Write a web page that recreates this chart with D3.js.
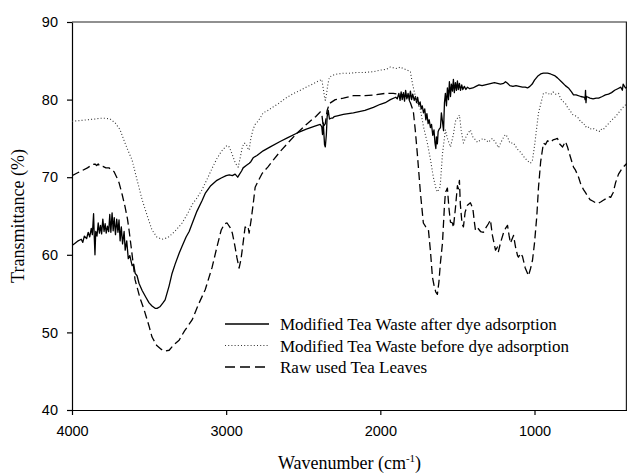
<html>
<head>
    <style>
        body { margin: 0; background: #fff; }
        .axis text { font: 14.5px "Liberation Sans", Arial, sans-serif; fill: #000; }
        .axis path, .axis line { stroke: #000; stroke-width: 1.2; }
        .title, .legend text { font-family: "Liberation Serif", "Times New Roman", serif; font-size: 17px; fill: #000; }
        .title { font-size: 18px; }
    </style>
    <script src="https://d3js.org/d3.v7.min.js"></script>
</head>
<body>
    <svg width="627" height="475"></svg>
    <script>
        // tick labels
        var xTicks = [4000, 3000, 2000, 1000];
        var yTicks = [40, 50, 60, 70, 80, 90];

        var seriesNames = ["Modified Tea Waste after dye adsorption",
                           "Modified Tea Waste before dye adsorption",
                           "Raw used Tea Leaves"];

        // Modified Tea Waste after dye adsorption
        var wnAfter = [4000,3980,3960,3940,3930,3920,3905,3895,3885,3875,3868,3860,3855,3851,3846,3838,3830,3822,3815,3808,
            3800,3792,3785,3778,3770,3762,3755,3748,3740,3733,3726,3718,3710,3702,3695,3688,3680,3672,3662,3655,
            3645,3635,3625,3610,3600,3590,3578,3565,3545,3520,3500,3481,3461,3448,3430,3410,3396,3370,3351,3331,
            3305,3286,3260,3240,3221,3190,3156,3136,3100,3060,3032,3000,2980,2960,2942,2925,2916,2900,2890,2870,
            2850,2840,2825,2800,2760,2714,2650,2600,2539,2480,2420,2390,2380,2375,2370,2362,2357,2350,2345,2338,
            2330,2320,2310,2300,2279,2240,2175,2100,2045,2000,1968,1935,1900,1890,1880,1872,1865,1858,1850,1843,
            1836,1828,1820,1812,1805,1797,1790,1780,1772,1765,1758,1750,1742,1735,1728,1720,1712,1705,1698,1690,
            1683,1675,1668,1660,1652,1646,1640,1636,1630,1625,1618,1610,1604,1597,1590,1584,1578,1571,1565,1558,
            1552,1545,1539,1532,1526,1520,1513,1506,1500,1494,1487,1480,1472,1465,1455,1445,1435,1420,1400,1380,
            1360,1340,1320,1300,1280,1260,1240,1221,1200,1188,1175,1160,1140,1120,1100,1078,1060,1045,1030,1015,
            1000,980,960,942,916,896,870,851,820,800,780,760,747,730,700,675,672,669,666,663,
            640,620,600,584,560,540,520,500,480,460,440,430,425,410,400];
        var tAfter = [61.2,61.5,61.8,62.0,61.6,62.4,62.1,62.9,62.3,63.4,62.6,65.3,62.0,60.0,63.0,62.4,64.1,62.8,63.8,62.7,
            64.6,63.0,64.0,62.8,63.7,63.0,65.2,62.9,65.4,63.1,64.8,62.6,64.6,62.9,64.5,61.8,63.6,61.4,63.0,60.6,
            61.8,59.5,59.9,58.6,58.8,57.6,57.3,56.3,55.4,54.5,53.8,53.4,53.1,53.1,53.3,53.8,54.2,56.0,57.6,58.8,
            60.2,61.1,62.3,63.0,64.0,65.6,67.0,67.9,68.9,69.6,69.9,70.2,70.3,70.2,70.4,70.0,70.3,70.8,71.2,71.5,
            71.8,72.0,72.5,72.8,73.4,73.9,74.6,75.1,75.7,76.2,76.6,76.8,76.5,75.5,77.0,74.2,73.9,75.5,77.8,78.6,
            77.5,77.6,77.6,77.8,77.9,78.1,78.3,78.6,79.0,79.4,79.6,80.0,80.3,80.1,80.8,79.9,81.0,80.0,80.9,79.8,
            81.2,80.1,80.8,79.9,81.1,80.0,80.7,79.9,80.4,79.6,80.3,79.3,79.7,78.8,79.2,78.3,78.8,77.4,78.2,76.9,
            77.4,76.4,76.8,75.4,76.1,74.5,73.7,75.2,74.3,75.9,76.2,76.4,78.3,77.2,76.0,79.6,80.8,79.2,81.5,80.0,
            82.3,80.4,82.0,81.1,82.6,80.9,82.2,81.2,82.4,81.3,82.1,81.2,81.9,81.3,81.7,81.3,81.6,81.4,81.5,81.7,
            81.9,81.8,81.9,82.0,82.1,82.2,82.1,82.0,82.1,82.3,82.1,81.8,81.7,81.8,81.7,81.6,81.6,81.5,81.7,82.0,
            82.5,83.0,83.3,83.4,83.4,83.3,83.1,82.8,82.2,81.8,81.5,81.0,80.6,80.6,80.4,80.3,80.0,81.2,79.6,80.4,
            80.2,80.1,80.2,80.2,80.4,80.6,80.7,80.9,81.2,81.4,81.6,81.2,82.0,81.5,81.6];

        // Modified Tea Waste before dye adsorption
        var wnBefore = [4000,3950,3900,3850,3818,3780,3753,3720,3688,3660,3640,3610,3580,3545,3510,3481,3450,3416,3380,3350,
            3320,3286,3250,3220,3190,3156,3120,3090,3060,3032,3010,2994,2980,2960,2940,2922,2910,2896,2884,2870,
            2857,2851,2840,2825,2812,2799,2780,2760,2730,2700,2660,2620,2580,2540,2500,2460,2420,2390,2380,2370,
            2362,2357,2350,2340,2330,2312,2300,2279,2240,2200,2150,2100,2045,2000,1960,1935,1916,1890,1870,1851,
            1825,1805,1792,1770,1740,1720,1695,1675,1656,1640,1630,1615,1610,1597,1578,1565,1545,1526,1513,1487,
            1475,1461,1440,1416,1400,1370,1350,1331,1310,1299,1286,1273,1250,1234,1210,1190,1175,1160,1136,1110,
            1090,1060,1039,1026,1013,1000,974,955,942,920,896,880,864,844,830,818,799,786,770,750,
            734,714,700,682,669,656,640,620,604,590,580,571,556,539,520,506,487,474,455,430,400];
        var tBefore = [77.2,77.3,77.4,77.5,77.6,77.6,77.5,77.0,76.1,74.6,73.6,72.2,69.8,67.1,64.9,63.2,62.3,62.0,62.2,62.7,
            63.3,64.1,65.3,66.5,67.3,68.4,69.9,71.2,72.4,73.3,73.8,74.1,73.9,72.9,71.8,71.3,72.4,73.8,74.4,74.3,
            73.6,73.5,75.0,76.2,76.8,77.1,77.6,78.3,78.6,79.0,79.5,80.1,80.6,81.0,81.4,81.8,82.2,82.5,82.6,81.4,
            80.3,79.9,80.6,82.0,82.9,83.1,83.2,83.3,83.4,83.4,83.5,83.5,83.6,83.8,83.9,84.2,84.1,84.0,84.2,84.0,
            83.8,83.6,82.1,80.2,78.7,76.5,74.4,72.3,70.0,68.6,68.1,68.6,69.3,73.0,76.1,75.0,73.9,75.5,77.2,78.0,
            76.0,74.4,75.4,76.1,75.2,74.5,74.8,75.0,74.7,74.5,74.8,75.0,74.4,73.8,74.8,75.5,75.2,74.4,74.4,73.6,
            73.2,72.4,72.0,71.8,72.2,74.0,78.3,79.8,80.8,80.9,80.6,81.0,80.7,80.8,80.1,79.8,79.5,79.0,78.6,78.0,
            77.9,77.6,77.1,77.0,76.5,76.6,76.2,76.3,76.1,76.0,75.9,76.2,76.1,76.5,76.9,77.2,77.6,77.8,78.3,78.9,79.5];

        // Raw used Tea Leaves
        var wnRaw = [4000,3960,3930,3900,3870,3851,3840,3830,3818,3800,3780,3760,3740,3727,3710,3695,3675,3656,3640,3630,
            3610,3591,3560,3532,3500,3481,3450,3420,3396,3370,3340,3305,3270,3221,3180,3136,3091,3060,3032,3010,
            2994,2974,2960,2942,2930,2916,2904,2896,2877,2865,2857,2851,2838,2825,2812,2790,2766,2730,2695,2650,
            2600,2539,2480,2420,2390,2380,2370,2357,2345,2330,2292,2240,2175,2100,2045,1968,1916,1880,1851,1825,
            1805,1786,1773,1760,1740,1721,1705,1688,1675,1662,1650,1640,1630,1620,1610,1597,1585,1578,1565,1555,
            1545,1532,1526,1513,1500,1494,1487,1481,1470,1461,1450,1435,1416,1400,1390,1383,1370,1350,1331,1315,
            1299,1286,1273,1253,1240,1234,1221,1200,1188,1175,1165,1156,1140,1136,1123,1110,1104,1090,1078,1060,
            1045,1039,1026,1013,1000,985,974,960,942,929,916,896,880,864,851,838,818,799,786,770,
            747,734,714,700,682,669,656,640,620,604,590,571,556,539,520,506,490,474,455,430,400];
        var tRaw = [70.2,70.6,70.9,71.2,71.6,71.7,71.5,71.7,71.4,71.4,71.2,71.2,70.9,70.7,70.0,69.3,67.8,66.2,64.6,63.2,
            60.0,56.8,54.5,52.9,50.8,49.4,48.3,47.8,47.6,47.7,48.4,49.0,50.2,51.6,53.6,55.5,58.4,61.0,63.2,64.0,
            64.1,63.5,62.8,61.0,59.6,58.3,59.4,60.6,63.6,63.3,63.5,62.8,64.5,66.5,68.7,69.6,70.5,71.3,72.2,73.3,
            74.4,75.7,76.8,77.8,78.4,78.2,76.5,76.9,78.6,79.5,80.0,80.2,80.5,80.5,80.6,80.8,80.8,80.7,80.6,80.3,
            79.6,78.5,76.0,73.0,68.0,64.1,63.6,63.2,60.5,57.1,55.9,55.2,54.9,56.5,59.0,61.5,66.0,68.0,68.6,66.0,
            64.2,64.1,63.5,66.0,68.9,68.5,69.6,66.5,64.0,63.6,65.5,66.4,66.7,66.0,64.2,63.2,63.5,63.0,62.9,63.5,
            64.0,64.5,62.5,60.6,61.0,60.4,61.5,62.9,63.4,63.8,62.5,61.5,62.3,62.5,61.0,59.9,59.7,60.2,59.8,58.3,
            57.6,57.3,58.2,59.3,61.5,65.0,68.7,72.0,74.4,74.2,74.7,74.5,74.8,74.9,75.0,74.3,73.9,74.6,73.9,72.8,
            71.3,70.9,70.0,69.1,68.4,68.0,67.6,67.1,66.9,66.7,66.6,66.8,67.0,67.2,67.5,67.4,68.0,69.3,70.4,71.2,71.8];

        var svg = d3.select("svg"),
            plotLeft = 72, plotRight = 627, plotTop = 22, plotBottom = 410;

        var x = d3.scaleLinear().domain([4000, 400]).range([plotLeft, plotRight]);
        var y = d3.scaleLinear().domain([40, 90]).range([plotBottom, plotTop]);

        svg.append("defs").append("clipPath").attr("id", "plot")
           .append("rect").attr("x", plotLeft).attr("y", plotTop)
           .attr("width", plotRight - plotLeft).attr("height", plotBottom - plotTop);

        // frame (top and right)
        svg.append("path")
           .attr("d", "M" + plotLeft + "," + plotTop + "H" + (plotRight - 0.6) + "V" + plotBottom)
           .attr("fill", "none").attr("stroke", "#222").attr("stroke-width", 1.2);

        svg.append("g").attr("class", "axis")
           .attr("transform", "translate(0," + plotBottom + ")")
           .call(d3.axisBottom(x).tickValues(xTicks).tickFormat(d3.format("d"))
                 .tickSize(5).tickSizeOuter(0).tickPadding(11));

        svg.append("g").attr("class", "axis")
           .attr("transform", "translate(" + plotLeft + ",0)")
           .call(d3.axisLeft(y).tickValues(yTicks).tickSize(5).tickSizeOuter(0).tickPadding(9));

        var line = d3.line()
                     .x(function(d) { return x(d[0]); })
                     .y(function(d) { return y(d[1]); });

        var styles = [
            { dash: null, width: 1.3, color: "#000" },
            { dash: "1,2.2", width: 1.1, color: "#333" },
            { dash: "8,4", width: 1.3, color: "#000" }
        ];
        var series = [d3.zip(wnAfter, tAfter), d3.zip(wnBefore, tBefore), d3.zip(wnRaw, tRaw)];

        var plot = svg.append("g").attr("clip-path", "url(#plot)");
        plot.selectAll(".spec").data(series).enter().append("path")
            .attr("class", "spec")
            .attr("d", line)
            .attr("fill", "none")
            .attr("stroke", function(d, i) { return styles[i].color; })
            .attr("stroke-width", function(d, i) { return styles[i].width; })
            .attr("stroke-dasharray", function(d, i) { return styles[i].dash; })
            .attr("stroke-linejoin", "round");

        // legend
        var legend = svg.append("g").attr("class", "legend")
                        .selectAll("g").data(seriesNames).enter().append("g")
                        .attr("transform", function(d, i) { return "translate(225," + (324 + i * 21.5) + ")"; });
        legend.append("line")
              .attr("x1", 0).attr("x2", 44).attr("y1", 0).attr("y2", 0)
              .attr("stroke", function(d, i) { return styles[i].color; })
              .attr("stroke-width", function(d, i) { return styles[i].width; })
              .attr("stroke-dasharray", function(d, i) { return i == 2 ? "10,5" : styles[i].dash; });
        legend.append("text")
              .attr("x", 55).attr("y", 6)
              .text(function(d) { return d; });

        // axis titles
        svg.append("text").attr("class", "title")
           .attr("transform", "translate(24," + ((plotTop + plotBottom) / 2) + ") rotate(-90)")
           .attr("text-anchor", "middle")
           .text("Transmittance (%)");

        var xt = svg.append("text").attr("class", "title")
                    .attr("x", (plotLeft + plotRight) / 2).attr("y", 469)
                    .attr("text-anchor", "middle");
        xt.append("tspan").text("Wavenumber (cm");
        xt.append("tspan").attr("dy", -7).attr("font-size", 11).text("-1");
        xt.append("tspan").attr("dy", 7).text(")");
    </script>
</body>
</html>
